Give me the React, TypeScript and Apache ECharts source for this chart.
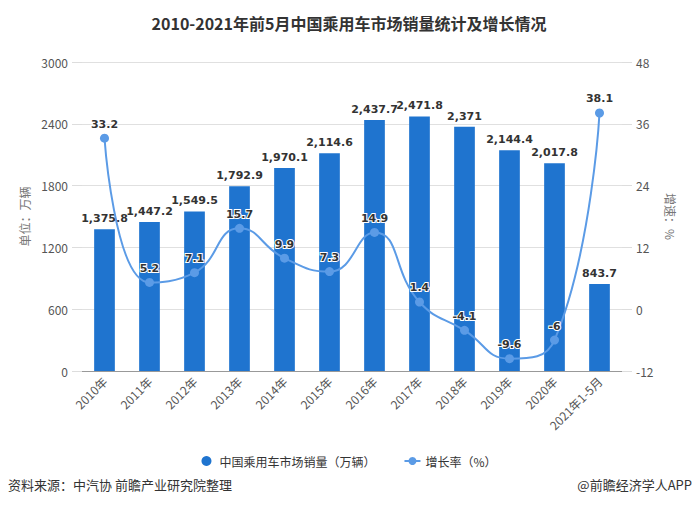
import React, { useEffect, useRef } from "react";
import * as echarts from "echarts";

const categories = ["2010年", "2011年", "2012年", "2013年", "2014年", "2015年", "2016年", "2017年", "2018年", "2019年", "2020年", "2021年1-5月"];
const sales = [1375.8, 1447.2, 1549.5, 1792.9, 1970.1, 2114.6, 2437.7, 2471.8, 2371, 2144.4, 2017.8, 843.7];
const growth = [33.2, 5.2, 7.1, 15.7, 9.9, 7.3, 14.9, 1.4, -4.1, -9.6, -6, 38.1];
const leftTicks = { min: 0, max: 3000, interval: 600 };
const rightTicks = { min: -12, max: 48, interval: 12 };

const FONT = "'Noto Sans CJK SC', 'Microsoft YaHei', sans-serif";
const NUMFONT = "'DejaVu Sans', Verdana, sans-serif";

export default function App() {
  const ref = useRef<HTMLDivElement>(null);
  useEffect(() => {
    if (!ref.current) return;
    const chart = echarts.init(ref.current, undefined, { renderer: "svg" });
    chart.setOption({
      animation: false,
      backgroundColor: "#ffffff",
      textStyle: { fontFamily: FONT },
      title: {
        text: "2010-2021年前5月中国乘用车市场销量统计及增长情况",
        left: "center",
        top: 10,
        textStyle: { fontSize: 16, fontWeight: "bold", color: "#333", fontFamily: FONT },
      },
      grid: { left: 82, right: 76, top: 62, bottom: 145 },
      legend: {
        bottom: 44,
        left: "center",
        itemGap: 28,
        itemWidth: 16,
        itemHeight: 10,
        textStyle: { fontSize: 12, color: "#333", fontFamily: FONT },
        data: [
          { name: "中国乘用车市场销量（万辆）", icon: "circle" },
          { name: "增长率（%）" },
        ],
      },
      xAxis: {
        type: "category",
        data: categories,
        axisLine: { lineStyle: { color: "#999" } },
        axisTick: { alignWithLabel: true, lineStyle: { color: "#999" } },
        axisLabel: { rotate: 45, color: "#555", fontSize: 12, margin: 8, interval: 0, fontFamily: FONT },
      },
      yAxis: [
        {
          type: "value",
          ...leftTicks,
          name: "单位：万辆",
          nameLocation: "middle",
          nameGap: 40,
          nameTextStyle: { color: "#777", fontSize: 12, fontFamily: FONT },
          axisLine: { show: false },
          axisTick: { show: true, length: 10, lineStyle: { color: "#ddd" } },
          axisLabel: { color: "#555", fontSize: 12, margin: 14, formatter: (v: number) => String(v) },
          splitLine: { lineStyle: { color: "#e0e0e0" } },
        },
        {
          type: "value",
          ...rightTicks,
          name: "增速：%",
          nameLocation: "middle",
          nameGap: 38,
          nameRotate: -90,
          nameTextStyle: { color: "#777", fontSize: 12, fontFamily: FONT },
          axisLine: { show: false },
          axisTick: { show: true, length: 10, lineStyle: { color: "#ddd" } },
          axisLabel: { color: "#555", fontSize: 12, margin: 14, formatter: (v: number) => String(v) },
          splitLine: { show: false },
        },
      ],
      series: [
        {
          name: "中国乘用车市场销量（万辆）",
          type: "bar",
          data: sales,
          barWidth: "46%",
          itemStyle: { color: "#1f74cf" },
          label: {
            show: true,
            position: "top",
            distance: 5,
            color: "#333",
            fontWeight: "bold",
            fontSize: 11,
            fontFamily: NUMFONT,
            formatter: (p: any) => Number(p.value).toLocaleString("en-US"),
          },
        },
        {
          name: "增长率（%）",
          type: "line",
          yAxisIndex: 1,
          data: growth,
          smooth: true,
          symbol: "circle",
          symbolSize: 9,
          lineStyle: { color: "#5b9be6", width: 2 },
          itemStyle: { color: "#5b9be6" },
          label: {
            show: true,
            position: "top",
            distance: 4,
            color: "#333",
            fontWeight: "bold",
            fontSize: 11,
            fontFamily: NUMFONT,
            textBorderColor: "#fff",
            textBorderWidth: 2,
          },
          z: 3,
        },
      ],
      graphic: [
        {
          type: "text",
          left: 8,
          top: 478,
          style: { text: "资料来源：中汽协 前瞻产业研究院整理", fill: "#333", fontSize: 13, fontFamily: FONT },
        },
        {
          type: "text",
          right: 6,
          top: 478,
          style: { text: "@前瞻经济学人APP", fill: "#333", fontSize: 13, fontFamily: FONT },
        },
      ],
    });
    return () => chart.dispose();
  }, []);
  return <div ref={ref} style={{ width: 698, height: 516, position: "absolute", left: 0, top: 0 }} />;
}
